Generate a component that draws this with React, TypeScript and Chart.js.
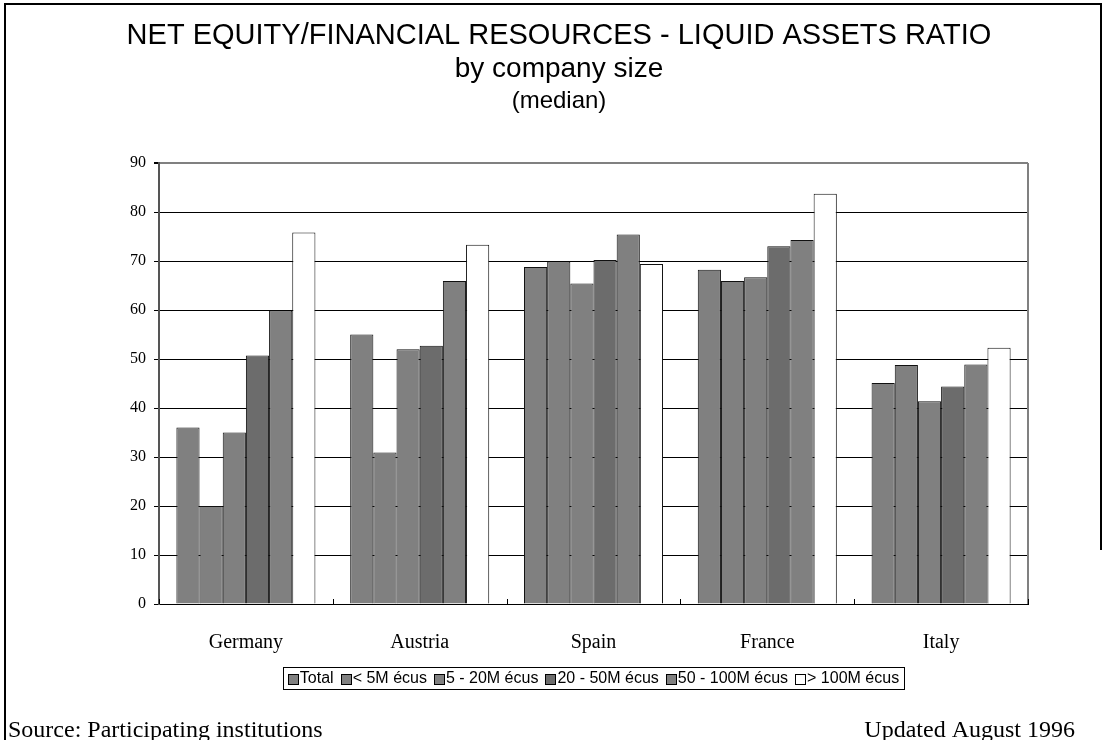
import { useEffect, useRef } from "react";
import { Chart, registerables } from "chart.js";

Chart.register(...registerables);

const categories = ["Germany", "Austria", "Spain", "France", "Italy"];
const seriesNames = ["Total", "< 5M écus", "5 - 20M écus", "20 - 50M écus", "50 - 100M écus", "> 100M écus"];
const total = [36, 55, 68.8, 68.2, 45.1];
const under5M = [20, 30.9, 69.9, 65.9, 48.8];
const from5to20M = [35, 52, 65.4, 66.7, 41.4];
const from20to50M = [50.7, 52.7, 70.2, 73, 44.4];
const from50to100M = [59.9, 65.9, 75.4, 74.3, 48.9];
const over100M = [75.8, 73.3, 69.4, 83.7, 52.3];
const seriesColors = ["#808080", "#808080", "#808080", "#6c6c6c", "#808080", "#ffffff"];
const yMin = 0;
const yMax = 90;
const yStep = 10;
const titleLines = ["NET EQUITY/FINANCIAL RESOURCES - LIQUID ASSETS RATIO", "by company size", "(median)"];
const footerLeft = "Source: Participating institutions";
const footerRight = "Updated August 1996";

const W = 1106;
const H = 740;
const X_AXIS_H = 62;

const decorPlugin = {
  id: "decor",
  beforeDraw(chart: any) {
    const ctx = chart.ctx;
    ctx.save();
    ctx.fillStyle = "#ffffff";
    ctx.fillRect(0, 0, W, H);
    ctx.restore();
  },
  afterDraw(chart: any) {
    const ctx = chart.ctx;
    const area = chart.chartArea;
    const xs = chart.scales.x;
    ctx.save();

    // plot area right border (gray)
    ctx.strokeStyle = "#808080";
    ctx.lineWidth = 2;
    ctx.beginPath();
    ctx.moveTo(area.right, area.top);
    ctx.lineTo(area.right, area.bottom);
    ctx.stroke();

    // inside tick marks on category axis
    ctx.strokeStyle = "#000";
    ctx.lineWidth = 1;
    const n = categories.length;
    for (let i = 0; i <= n; i++) {
      let px: number;
      if (i === 0) px = area.left;
      else if (i === n) px = area.right;
      else px = (xs.getPixelForValue(i - 1) + xs.getPixelForValue(i)) / 2;
      ctx.beginPath();
      ctx.moveTo(Math.round(px) + 0.5, area.bottom);
      ctx.lineTo(Math.round(px) + 0.5, area.bottom - 5);
      ctx.stroke();
    }

    // outer frame
    ctx.strokeStyle = "#000";
    ctx.lineWidth = 2;
    ctx.beginPath();
    ctx.moveTo(5, H);
    ctx.lineTo(5, 4);
    ctx.lineTo(1101, 4);
    ctx.lineTo(1101, 550);
    ctx.stroke();

    // titles
    ctx.fillStyle = "#000";
    ctx.textAlign = "center";
    ctx.textBaseline = "alphabetic";
    ctx.font = "29px 'Liberation Sans', Arial, sans-serif";
    ctx.fillText(titleLines[0], 559, 44);
    ctx.font = "28px 'Liberation Sans', Arial, sans-serif";
    ctx.fillText(titleLines[1], 559, 77);
    ctx.font = "24px 'Liberation Sans', Arial, sans-serif";
    ctx.fillText(titleLines[2], 559, 108);

    // footer
    ctx.font = "24px 'Liberation Serif', 'Times New Roman', serif";
    ctx.textAlign = "left";
    ctx.fillText(footerLeft, 8, 737);
    ctx.textAlign = "right";
    ctx.fillText(footerRight, 1075, 737);

    // legend
    const datasets = chart.data.datasets;
    ctx.font = "16px 'Liberation Sans', Arial, sans-serif";
    const box = 10;
    const gapBT = 2;
    const gapItem = 7;
    const widths = datasets.map((d: any) => box + gapBT + ctx.measureText(d.label).width);
    const totalW = widths.reduce((a: number, b: number) => a + b, 0) + gapItem * (widths.length - 1);
    const cx = (area.left + area.right) / 2;
    const padX = 5;
    let x = cx - totalW / 2;
    const lTop = 667;
    const lH = 22;
    ctx.strokeStyle = "#000";
    ctx.lineWidth = 1;
    ctx.strokeRect(Math.round(x - padX) + 0.5, lTop + 0.5, Math.round(totalW + 2 * padX), lH);
    const midY = lTop + lH / 2 + 1;
    ctx.textAlign = "left";
    ctx.textBaseline = "middle";
    datasets.forEach((d: any, i: number) => {
      const bx = Math.round(x) + 0.5;
      const by = Math.round(midY - box / 2) + 0.5;
      ctx.fillStyle = d.backgroundColor;
      ctx.fillRect(bx, by, box, box);
      ctx.strokeStyle = "#000";
      ctx.strokeRect(bx, by, box, box);
      ctx.fillStyle = "#000";
      ctx.fillText(d.label, x + box + gapBT, midY);
      x += widths[i] + gapItem;
    });

    ctx.restore();
  },
};

export default function App() {
  const ref = useRef<HTMLCanvasElement | null>(null);

  useEffect(() => {
    if (!ref.current) return;
    const seriesValues = [total, under5M, from5to20M, from20to50M, from50to100M, over100M];
    const chart = new Chart(ref.current, {
      type: "bar",
      data: {
        labels: categories,
        datasets: seriesValues.map((vals, i) => ({
          label: seriesNames[i],
          data: vals,
          backgroundColor: seriesColors[i],
          borderColor: "#111",
          borderWidth: 1,
          categoryPercentage: 0.8,
          barPercentage: 1,
        })),
      },
      options: {
        responsive: false,
        animation: false,
        devicePixelRatio: 1,
        layout: { padding: { left: 99, right: W - 1028, top: 163, bottom: H - 604 - X_AXIS_H } },
        plugins: {
          legend: { display: false },
          title: { display: false },
          tooltip: { enabled: false },
        },
        scales: {
          x: {
            afterFit: (s: any) => {
              s.height = X_AXIS_H;
            },
            grid: { display: false },
            border: { display: true, color: "#000", width: 1 },
            ticks: {
              color: "#000",
              padding: 19,
              font: { family: "'Liberation Serif', 'Times New Roman', serif", size: 20 },
            },
          },
          y: {
            min: yMin,
            max: yMax,
            afterFit: (s: any) => {
              s.width = 60;
            },
            ticks: {
              stepSize: yStep,
              color: "#000",
              padding: 8,
              font: { family: "'Liberation Serif', 'Times New Roman', serif", size: 16 },
            },
            grid: {
              color: (c: any) => (c.tick && c.tick.value === yMax ? "#808080" : "#000"),
              lineWidth: (c: any) => (c.tick && c.tick.value === yMax ? 2 : 1),
              tickLength: 5,
              tickColor: "#000",
            },
            border: { display: true, color: "#555", width: 2 },
          },
        },
      },
      plugins: [decorPlugin],
    });
    return () => chart.destroy();
  }, []);

  return (
    <div style={{ position: "absolute", left: 0, top: 0, width: W, height: H, background: "#fff" }}>
      <canvas ref={ref} width={W} height={H} style={{ display: "block", width: W, height: H }} />
    </div>
  );
}
